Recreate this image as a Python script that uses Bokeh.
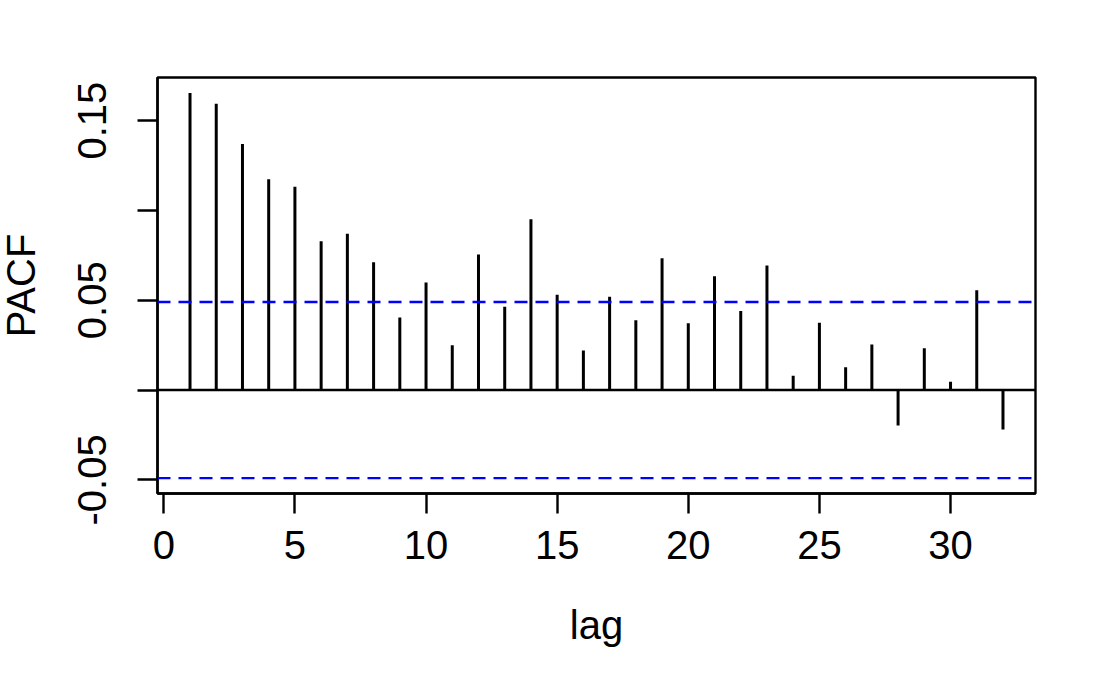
from bokeh.plotting import figure
from bokeh.models import FixedTicker, Range1d, Span
from bokeh.embed import file_html
from bokeh.resources import INLINE

# ---- data ----
lags = list(range(1, 33))
pacf = [0.1654, 0.1594, 0.1369, 0.1173, 0.1132, 0.0828, 0.0870, 0.0711,
        0.0404, 0.0599, 0.0250, 0.0754, 0.0464, 0.0951, 0.0531, 0.0220,
        0.0520, 0.0389, 0.0734, 0.0372, 0.0633, 0.0440, 0.0693, 0.0080,
        0.0374, 0.0127, 0.0253, -0.0197, 0.0233, 0.0046, 0.0555, -0.0220]
conf_limit = 0.049
x_ticks = [0, 5, 10, 15, 20, 25, 30]
y_ticks = [-0.05, 0.0, 0.05, 0.10, 0.15]
y_tick_labels = {-0.05: "-0.05", 0.0: "", 0.05: "0.05", 0.10: "", 0.15: "0.15"}
x_title = "lag"
y_title = "PACF"

# R-style 4% axis extension
xmin, xmax = min(lags), max(lags)
xpad = 0.04 * (xmax - xmin)
ylo = min(min(pacf), -conf_limit)
yhi = max(max(pacf), conf_limit)
ypad = 0.04 * (yhi - ylo)

FONT = "Liberation Sans"

p = figure(width=1108, height=672, output_backend="svg", toolbar_location=None,
           x_range=Range1d(xmin - xpad, xmax + xpad),
           y_range=Range1d(ylo - ypad, yhi + ypad),
           min_border_left=165, min_border_top=77, min_border_right=65, min_border_bottom=179,
           frame_width=878, frame_height=416)
p.margin = (0, 0, 0, -8)
p.background_fill_color = "white"
p.border_fill_color = "white"
p.grid.visible = False
p.outline_line_color = "black"
p.outline_line_width = 2.4
p.outline_line_alpha = 1.0

# bars (vertical lines from 0)
p.segment(x0=lags, y0=[0] * len(lags), x1=lags, y1=pacf, line_color="black", line_width=3)

# zero line and confidence bands
p.add_layout(Span(location=0, dimension="width", line_color="black", line_width=2.4))
for c in (conf_limit, -conf_limit):
    p.add_layout(Span(location=c, dimension="width", line_color="#0000FF",
                      line_width=2.4, line_dash="13 8"))

for ax in (p.xaxis[0], p.yaxis[0]):
    ax.axis_line_color = "black"
    ax.axis_line_width = 2.4
    ax.major_tick_line_color = "black"
    ax.major_tick_line_width = 2.4
    ax.major_tick_in = 0
    ax.major_tick_out = 20
    ax.minor_tick_line_color = None
    ax.major_label_text_font = FONT
    ax.major_label_text_font_size = "40px"
    ax.major_label_text_color = "black"
    ax.axis_label_text_font = FONT
    ax.axis_label_text_font_size = "40px"
    ax.axis_label_text_font_style = "normal"
    ax.axis_label_text_color = "black"

p.xaxis.ticker = FixedTicker(ticks=x_ticks)
p.xaxis.axis_label = x_title
p.xaxis.major_label_standoff = 17
p.xaxis.axis_label_standoff = 41

p.yaxis.ticker = FixedTicker(ticks=y_ticks)
p.yaxis.major_label_overrides = y_tick_labels
p.yaxis.major_label_orientation = "vertical"
p.yaxis.major_label_standoff = 31
p.yaxis.axis_label = y_title
p.yaxis.axis_label_standoff = 33

open("out.html", "w").write(file_html(p, INLINE))
